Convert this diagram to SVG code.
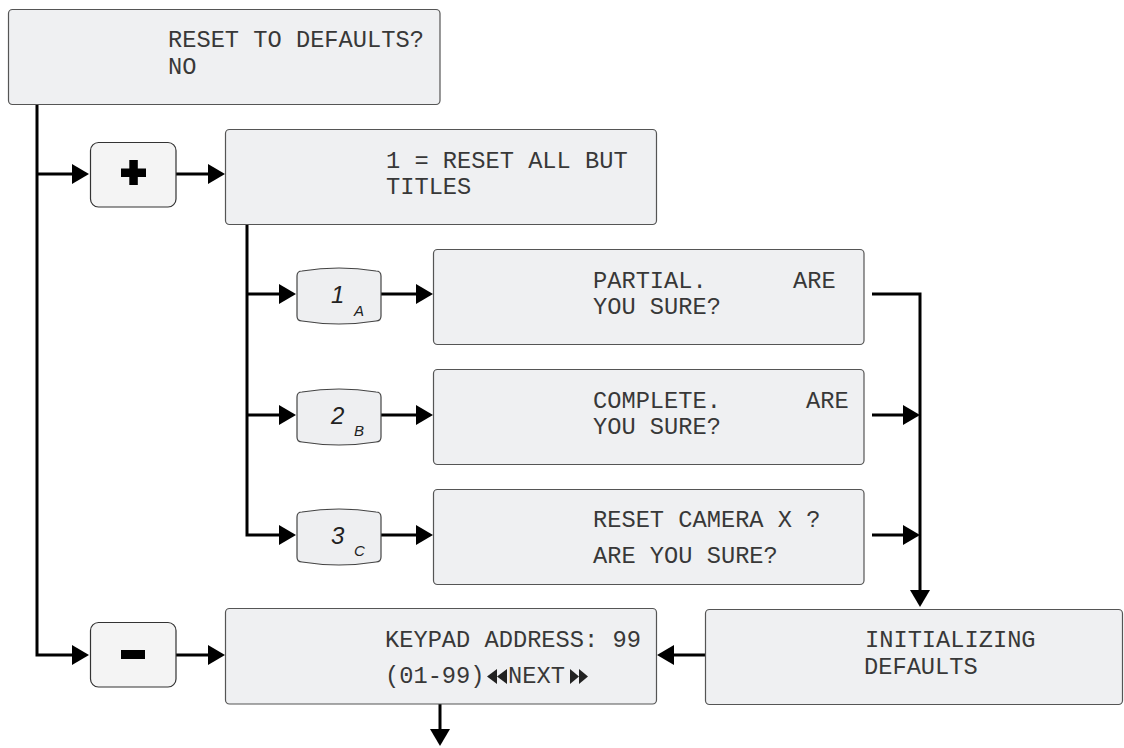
<svg xmlns="http://www.w3.org/2000/svg" width="1124" height="748" viewBox="0 0 1124 748">
<style>
.box{fill:#eff0f2;stroke:#555;stroke-width:1.2}
.btn{fill:#f4f4f4;stroke:#333;stroke-width:1.2}
.key{fill:#eeeff1;stroke:#444;stroke-width:1.2}
.t{font-family:"Liberation Mono","Courier New",monospace;font-size:23.7px;fill:#383838}
.k{font-family:"Liberation Sans",Arial,sans-serif;font-style:italic;fill:#222}
.kn{font-size:24px}
.ks{font-size:15px}
.c{fill:none;stroke:#000;stroke-width:3;marker-end:url(#ah)}
</style>
<defs>
<marker id="ah" markerUnits="userSpaceOnUse" markerWidth="17" markerHeight="20" refX="13" refY="10" orient="auto">
<path d="M0,0 L17,10 L0,20 Z" fill="#000"/>
</marker>
<path id="keyshape" d="M0,-20 Q0,-25 5,-25 Q42,-31 79,-25 Q84,-25 84,-20 L84,20 Q84,25 79,25 Q42,31 5,25 Q0,25 0,20 Z"/>
</defs>
<rect width="1124" height="748" fill="#fff"/>

<g id="connectors">
<path class="c" d="M37,104 V655 H85"/>
<path class="c" d="M37,174 H85"/>
<path class="c" d="M176,174 H221"/>
<path class="c" d="M247,224 V535 H292"/>
<path class="c" d="M247,294 H292"/>
<path class="c" d="M247,415 H292"/>
<path class="c" d="M381,294 H429"/>
<path class="c" d="M381,415 H429"/>
<path class="c" d="M381,535 H429"/>
<path class="c" d="M872,294 H920 V603"/>
<path class="c" d="M872,415 H916"/>
<path class="c" d="M872,535 H916"/>
<path class="c" d="M705,655 H661"/>
<path class="c" d="M176,655 H221"/>
<path class="c" d="M440,704 V742"/>
</g>

<g id="reset-to-defaults">
<rect class="box" x="8.5" y="9.5" width="431.5" height="95" rx="4"/>
<text class="t" x="168" y="47">RESET TO DEFAULTS?</text>
<text class="t" x="168" y="74">NO</text>
</g>

<g id="plus-button">
<rect class="btn" x="90.5" y="142.5" width="85.5" height="64.5" rx="8"/>
<rect x="121" y="168.5" width="25" height="8.5" fill="#000"/>
<rect x="129.3" y="160" width="8.5" height="25" fill="#000"/>
</g>

<g id="reset-all-but-titles">
<rect class="box" x="225.5" y="129.5" width="431" height="95" rx="4"/>
<text class="t" x="386" y="168">1 = RESET ALL BUT</text>
<text class="t" x="386" y="194">TITLES</text>
</g>

<g id="key-1">
<use href="#keyshape" class="key" transform="translate(297,296)"/>
<text class="k kn" x="331" y="303">1</text>
<text class="k ks" x="354" y="316">A</text>
</g>
<g id="key-2">
<use href="#keyshape" class="key" transform="translate(297,417)"/>
<text class="k kn" x="331" y="424">2</text>
<text class="k ks" x="354" y="436">B</text>
</g>
<g id="key-3">
<use href="#keyshape" class="key" transform="translate(297,537)"/>
<text class="k kn" x="331" y="544">3</text>
<text class="k ks" x="354" y="556">C</text>
</g>

<g id="partial">
<rect class="box" x="433.5" y="249.5" width="430.5" height="95" rx="4"/>
<text class="t" x="593" y="288">PARTIAL.<tspan x="793">ARE</tspan></text>
<text class="t" x="593" y="314">YOU SURE?</text>
</g>

<g id="complete">
<rect class="box" x="433.5" y="369.5" width="430.5" height="95" rx="4"/>
<text class="t" x="593" y="408">COMPLETE.<tspan x="806">ARE</tspan></text>
<text class="t" x="593" y="434">YOU SURE?</text>
</g>

<g id="reset-camera">
<rect class="box" x="433.5" y="489.5" width="430.5" height="95" rx="4"/>
<text class="t" x="593" y="527">RESET CAMERA X ?</text>
<text class="t" x="593" y="563">ARE YOU SURE?</text>
</g>

<g id="initializing-defaults">
<rect class="box" x="705.5" y="609.5" width="417" height="95" rx="4"/>
<text class="t" x="865" y="647">INITIALIZING</text>
<text class="t" x="864" y="674">DEFAULTS</text>
</g>

<g id="minus-button">
<rect class="btn" x="90.5" y="622.5" width="85.5" height="64.5" rx="8"/>
<rect x="121" y="650" width="24" height="9" fill="#000"/>
</g>

<g id="keypad-address">
<rect class="box" x="225.5" y="608.5" width="431" height="95.5" rx="4"/>
<text class="t" x="385" y="647">KEYPAD ADDRESS: 99</text>
<text class="t" x="385" y="683">(01-99)</text>
<polygon points="497,669 487,676.5 497,684" fill="#222"/>
<polygon points="507,669 497,676.5 507,684" fill="#222"/>
<text class="t" x="508" y="683">NEXT</text>
<polygon points="570,669 579,676.5 570,684" fill="#222"/>
<polygon points="579,669 588,676.5 579,684" fill="#222"/>
</g>
</svg>
